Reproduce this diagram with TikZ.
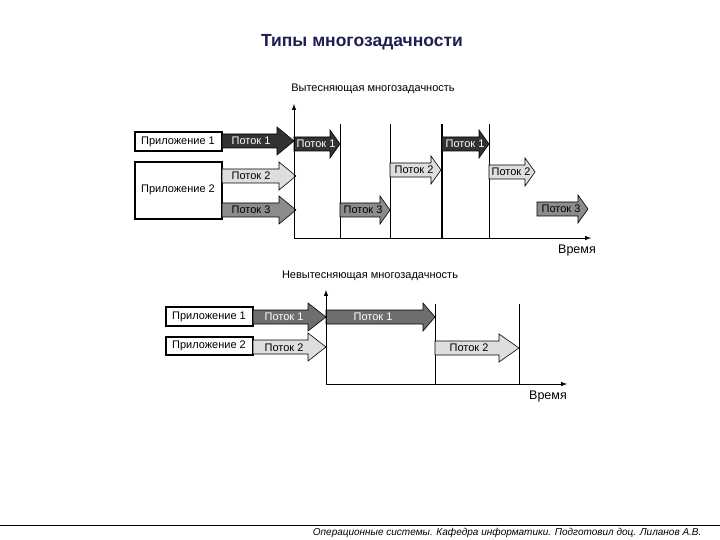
\documentclass[tikz,border=0pt]{standalone}
\usepackage{fontspec}
\setmainfont{Liberation Sans}
\usepackage{tikz}
\newcommand{\flowarrow}[4]% start x, tip x, y, head length
{(#1,#3-7) -- (#2-#4,#3-7) -- (#2-#4,#3-14) -- (#2,#3) -- (#2-#4,#3+14) -- (#2-#4,#3+7) -- (#1,#3+7) -- cycle
}
\definecolor{titleblue}{RGB}{30,30,80}
\definecolor{darkflow}{RGB}{50,50,50}
\definecolor{midflow}{RGB}{110,110,110}
\definecolor{greyflow}{RGB}{140,140,140}
\definecolor{lightflow}{RGB}{222,222,222}

\begin{document}
\begin{tikzpicture}[x=1pt,y=-1pt,
	appbox/.style={draw,line width=1.2pt,fill=white},
	lbl/.style={font=\fontsize{11}{13}\selectfont,inner sep=0pt},
	flow/.style={draw,line width=0.6pt},
	tick/.style={line width=0.8pt}]
	\useasboundingbox (0,0) rectangle (720,540);
	\node[font=\bfseries\fontsize{17.5}{20}\selectfont,text=titleblue] (title) at (362,42){Типы многозадачности};
	%upper diagram
	\node[lbl] (pre) at (373,89){Вытесняющая многозадачность};
	\coordinate (o1) at (294,238);
	\coordinate (y1) at (294,104);
	\coordinate (x1) at (591,238);
	\draw[tick] (340,124) -- (340,238);
	\draw[tick] (390,124) -- (390,238);
	\draw[line width=1.6pt] (442,124) -- (442,238);
	\draw[tick] (489,124) -- (489,238);
	\draw[appbox] (135,132) rectangle (222,151);
	\draw[appbox] (135,162) rectangle (222,219);
	\node[lbl] (app1) at (178,142){Приложение 1};
	\node[lbl] (app2) at (178,190){Приложение 2};
	\draw[flow,fill=darkflow] \flowarrow{222}{294}{141}{17};
	\draw[flow,fill=lightflow] \flowarrow{222}{296}{176}{17};
	\draw[flow,fill=greyflow] \flowarrow{222}{296}{210}{17};
	\node[lbl,white] (t1) at (251,141){Поток 1};
	\node[lbl] (t2) at (251,176){Поток 2};
	\node[lbl] (t3) at (251,210){Поток 3};
	\draw[flow,fill=darkflow] \flowarrow{294}{340}{144}{10};
	\draw[flow,fill=greyflow] \flowarrow{340}{390}{210}{10};
	\draw[flow,fill=lightflow] \flowarrow{390}{441}{170}{10};
	\draw[flow,fill=darkflow] \flowarrow{442}{489}{144}{10};
	\draw[flow,fill=lightflow] \flowarrow{489}{535}{172}{10};
	\draw[flow,fill=greyflow] \flowarrow{537}{588}{209}{10};
	\node[lbl,white] (s1) at (316,144){Поток 1};
	\node[lbl] (s2) at (363,210){Поток 3};
	\node[lbl] (s3) at (414,170){Поток 2};
	\node[lbl,white] (s4) at (465,144){Поток 1};
	\node[lbl] (s5) at (511,172){Поток 2};
	\node[lbl] (s6) at (561,209){Поток 3};
	\draw[line width=1pt,-latex] (o1) -- (y1);
	\draw[line width=1pt,-latex] (o1) -- (x1);
	\node[font=\fontsize{12.5}{14}\selectfont] (time1) at (577,250){Время};
	%lower diagram
	\node[lbl] (npre) at (370,276){Невытесняющая многозадачность};
	\coordinate (o2) at (326,384);
	\coordinate (y2) at (326,290);
	\coordinate (x2) at (567,384);
	\draw[tick] (435,304) -- (435,384);
	\draw[tick] (519,304) -- (519,384);
	\draw[appbox] (166,307) rectangle (253,326);
	\draw[appbox] (166,337) rectangle (253,355);
	\node[lbl] (napp1) at (209,317){Приложение 1};
	\node[lbl] (napp2) at (209,346){Приложение 2};
	\draw[flow,fill=midflow] \flowarrow{253}{326}{317}{18};
	\draw[flow,fill=lightflow] \flowarrow{253}{326}{347}{18};
	\node[lbl,white] (n1) at (284,317){Поток 1};
	\node[lbl] (n2) at (284,348){Поток 2};
	\draw[flow,fill=midflow] \flowarrow{326}{435}{317}{12};
	\draw[flow,fill=lightflow] \flowarrow{435}{519}{348}{20};
	\node[lbl,white] (m1) at (373,317){Поток 1};
	\node[lbl] (m2) at (469,348){Поток 2};
	\draw[line width=1pt,-latex] (o2) -- (y2);
	\draw[line width=1pt,-latex] (o2) -- (x2);
	\node[font=\fontsize{12.5}{14}\selectfont] (time2) at (548,396){Время};
	%footer
	\draw[line width=0.8pt] (0,525.5) -- (720,525.5);
	\node[font=\itshape\fontsize{10}{12}\selectfont,anchor=east] (foot) at (705,533){Операционные системы. Кафедра информатики. Подготовил доц. Лиланов А.В.};
\end{tikzpicture}
\end{document}
